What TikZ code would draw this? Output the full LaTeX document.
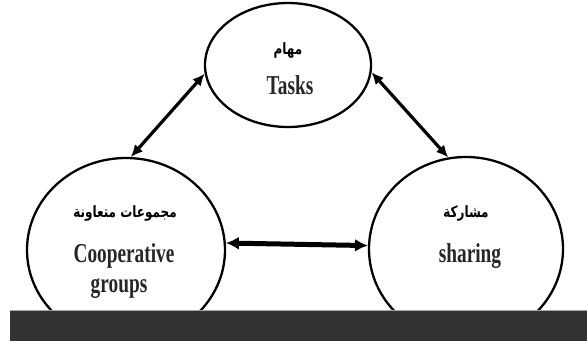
\documentclass[tikz,border=0pt]{standalone}
\usepackage{fontspec}
\setmainfont{Liberation Serif}
\newfontfamily\arabicfont[Script=Arabic]{DejaVu Sans}
\TeXXeTstate=1
\usetikzlibrary{shapes.geometric,arrows.meta}
\tikzset{
  blob/.style={draw=black, line width=2.3pt, ellipse, fill=white, inner sep=0pt},
  link/.style={line width=3.2pt, {Latex[length=12pt,width=11pt]}-{Latex[length=12pt,width=11pt]}},
  en/.style={font=\fontsize{21}{24}\selectfont\bfseries, text=black!85, inner sep=0pt, anchor=base, yscale=1.3, xscale=0.92},
  ar/.style={font=\arabicfont\fontsize{12}{14}\selectfont\bfseries, inner sep=0pt, anchor=base, yscale=1.3},
}
\begin{document}
\begin{tikzpicture}[x=1pt,y=-1pt]
\useasboundingbox (0,0) rectangle (587,344);
\node[blob, minimum width=166pt, minimum height=124pt] (tasks) at (288,65) {};
\node[blob, minimum width=198pt, minimum height=184pt] (coop) at (126,250) {};
\node[blob, minimum width=194pt, minimum height=184pt] (share) at (466,249) {};
\fill[white] (0,341) rectangle (587,344);
\fill[black!80] (10,310) rectangle (587,341);
\draw[gray!70, line width=0.8pt] (10,310.4) -- (587,310.4);
\draw[link] (tasks.186) -- (coop.87);
\draw[link] (tasks.355) -- (share.101);
\draw[link, line width=5pt, {Latex[length=13pt,width=13pt]}-{Latex[length=13pt,width=13pt]}] (coop.4) -- (share.178);
\node[ar] (tar) at (288,55) {\beginR مهام\endR};
\node[en] (ten) at (290,95) {Tasks};
\node[ar] (car) at (125,218) {\beginR مجموعات متعاونة\endR};
\node[en] (cen) at (124,263) {Cooperative};
\node[en] (cgr) at (119,293) {groups};
\node[ar] (sar) at (466,218) {\beginR مشاركة\endR};
\node[en] (sen) at (470,263) {sharing};
\end{tikzpicture}
\end{document}
